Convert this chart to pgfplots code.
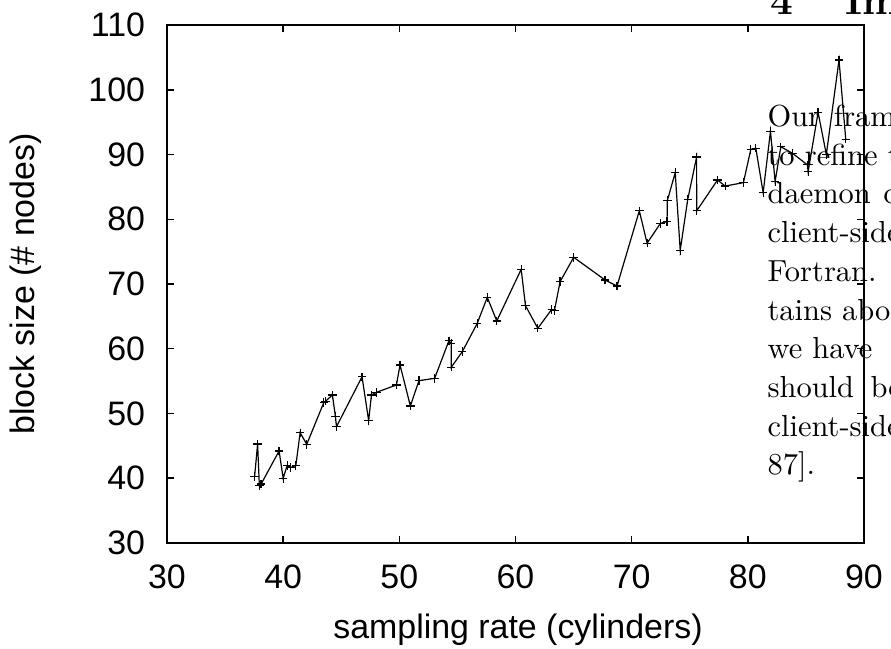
\documentclass[border=0pt]{standalone}
\usepackage{pgfplots}
\pgfplotsset{compat=1.18}
\usepackage{fontspec}
\newfontfamily\sansf{Liberation Sans}
\begin{document}
\begin{tikzpicture}
\useasboundingbox (-55.667pt,-35.333pt) rectangle (241.333pt,181pt);
\clip (-55.667pt,-35.333pt) rectangle (241.333pt,181pt);
\begin{axis}[
  at={(0,0)}, anchor=south west,
  scale only axis, width=232.333pt, height=172.667pt,
  xmin=30, xmax=90, ymin=30, ymax=110,
  xtick={30,40,...,90}, ytick={30,40,...,110},
  tick align=inside, major tick length=2.4pt,
  axis line style={line width=0.65pt},
  every tick/.style={black, line width=0.5pt},
  tick label style={font=\sansf\fontsize{11.3}{12}\selectfont, /pgf/number format/assume math mode=true},
  xticklabel style={yshift=-3.8pt},
  yticklabel style={xshift=-3.8pt},
  xlabel={sampling rate (cylinders)},
  ylabel={block size (\# nodes)},
  label style={font=\sansf\fontsize{11.3}{12}\selectfont},
  xlabel style={at={(axis description cs:0.5036,0)}, anchor=base, yshift=-32pt},
  ylabel style={at={(axis description cs:-0.1894,0.5)}, anchor=base},
]
\addplot[black, line width=0.4pt, mark=+, mark size=1.4pt, mark options={line width=0.4pt}] coordinates {
(37.54,40.24) (37.80,45.29) (37.95,38.9) (38.10,39.1) (39.65,44.21)
(40.00,39.99) (40.34,41.94) (40.66,41.69) (41.09,41.94) (41.46,47.03)
(42.03,45.24) (43.50,51.7) (43.65,51.9) (44.24,52.86) (44.50,49.51)
(44.59,47.96) (46.79,55.68) (47.36,48.89) (47.60,52.86) (48.03,53.27)
(49.75,54.40) (50.06,57.5) (50.95,51.16) (51.69,55.07) (53.04,55.43)
(54.27,61.24) (54.47,60.84) (54.47,57.14) (55.42,59.55) (56.71,63.93)
(57.57,67.94) (58.39,64.29) (60.49,72.27) (60.86,66.65) (61.92,63.16)
(63.12,66.09) (63.35,65.88) (63.84,70.36) (65.01,74.12) (67.71,70.62)
(68.74,69.69) (70.66,81.3) (71.33,76.3) (72.48,79.37) (73.05,79.65)
(73.07,82.87) (73.75,87.2) (74.18,75.2) (74.83,83.08) (75.59,89.6)
(75.60,81.3) (77.39,86.06) (78.05,85.13) (79.62,85.65) (80.26,90.8)
(80.69,90.96) (81.32,84.10) (81.95,93.6) (82.35,85.8) (82.84,91.2)
(83.84,90.2) (85.13,88.4) (85.19,87.35) (86.05,96.5) (86.76,90.0)
(87.85,104.6) (88.43,92.35)
};
\end{axis}
\begin{scope}[every node/.style={anchor=base west, inner sep=0pt, font=\fontsize{10.15}{12.9}\selectfont}]
\node[font=\bfseries\fontsize{13.5}{16}\selectfont] at (201pt,176pt) {4};
\node[font=\bfseries\fontsize{13.5}{16}\selectfont] at (226pt,176pt) {Implementation};
\node at (200pt,138.8pt) {Our\hspace{4.6pt}framework};
\node at (200pt,125.9pt) {to refine the};
\node at (200pt,113pt) {daemon\hspace{4.2pt}consists};
\node at (200pt,100.1pt) {client-side library};
\node at (200pt,87.2pt) {Fortran.\hspace{8pt}It};
\node at (200pt,74.3pt) {tains about};
\node at (200pt,61.4pt) {we have\hspace{10pt}not};
\node at (200pt,48.5pt) {should\hspace{5.5pt}be simple};
\node at (200pt,35.6pt) {client-side library};
\node at (200pt,22.7pt) {87].};
\end{scope}
\end{tikzpicture}
\end{document}
